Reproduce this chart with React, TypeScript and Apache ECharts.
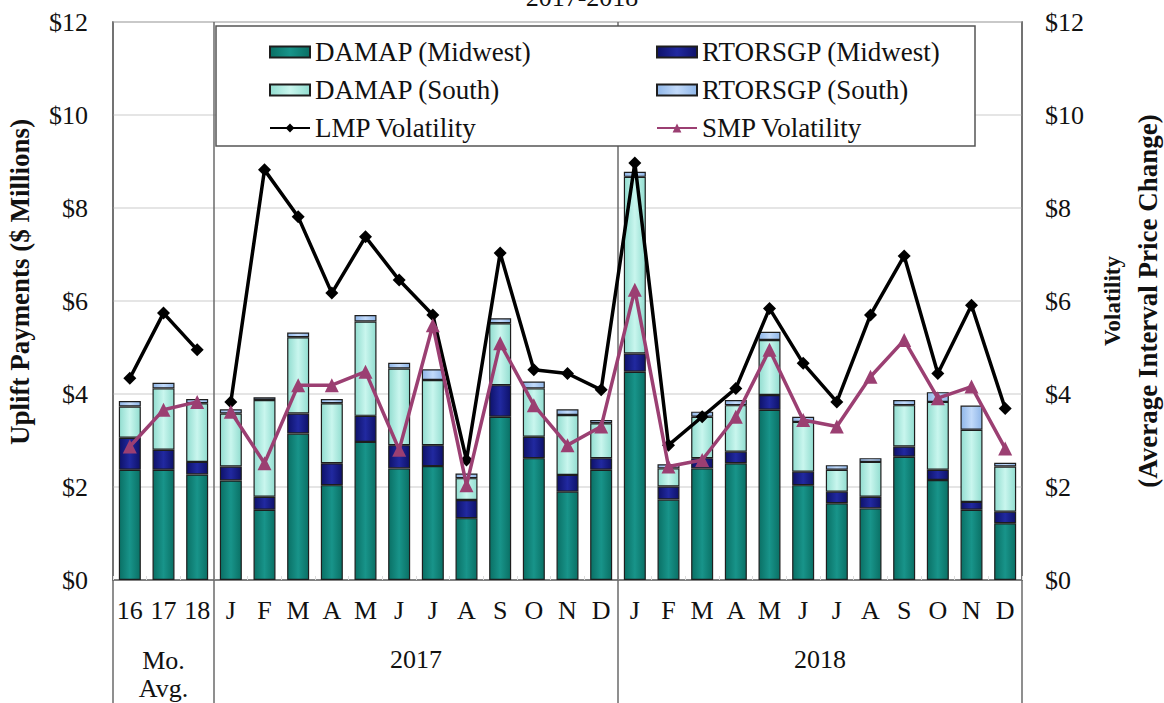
import React, { useEffect, useRef } from "react";
import * as echarts from "echarts";

const categories = ["16","17","18","J","F","M","A","M","J","J","A","S","O","N","D","J","F","M","A","M","J","J","A","S","O","N","D"];
const damapMidwest = [2.37,2.37,2.27, 2.14,1.51,3.15,2.04,2.97,2.40,2.45,1.33,3.51,2.62,1.90,2.37, 4.48,1.73,2.40,2.51,3.66,2.04,1.65,1.54,2.65,2.15,1.51,1.22];
const rtorsgpMidwest = [0.69,0.43,0.27, 0.30,0.28,0.43,0.47,0.56,0.50,0.45,0.39,0.68,0.46,0.36,0.25, 0.39,0.28,0.22,0.25,0.32,0.29,0.25,0.25,0.22,0.22,0.17,0.25];
const damapSouth = [0.67,1.32,1.26, 1.14,2.08,1.64,1.29,2.03,1.65,1.40,0.47,1.33,1.04,1.29,0.75, 3.80,0.39,0.89,1.00,1.18,1.07,0.47,0.75,0.89,1.46,1.55,0.97];
const rtorsgpSouth = [0.12,0.12,0.09, 0.09,0.06,0.10,0.09,0.14,0.12,0.23,0.10,0.11,0.15,0.12,0.07, 0.11,0.09,0.11,0.11,0.18,0.11,0.10,0.08,0.11,0.21,0.52,0.08];
const lmpVolatility = [4.34,5.74,4.95, 3.83,8.82,7.81,6.17,7.38,6.45,5.70,2.58,7.03,4.52,4.44,4.09, 8.97,2.90,3.51,4.12,5.84,4.66,3.83,5.70,6.97,4.44,5.91,3.69];
const smpVolatility = [2.87,3.66,3.83, 3.62,2.51,4.19,4.19,4.48,2.80,5.48,2.04,5.09,3.76,2.90,3.30, 6.24,2.44,2.58,3.51,4.95,3.44,3.30,4.37,5.16,3.91,4.16,2.83];
const groupLabels = ["Mo.\nAvg.", "2017", "2018"];
const avgCount = 3;

const FONT = "Liberation Serif";

function hGrad(edge: string, mid: string) {
  return new echarts.graphic.LinearGradient(0, 0, 1, 0, [
    { offset: 0, color: edge },
    { offset: 0.5, color: mid },
    { offset: 1, color: edge },
  ]);
}

export default function App() {
  const ref = useRef<HTMLDivElement>(null);
  useEffect(() => {
    if (!ref.current) return;
    const chart = echarts.init(ref.current, null, { renderer: "svg" });
    const gridLeft = 113, gridRight = 1022, gridTop = 22, gridBottom = 580;
    const cw = (gridRight - gridLeft) / categories.length;
    const sepX = (i: number) => gridLeft + cw * i;

    const splitAvg = (arr: number[]) => arr.map((v, i) => (i < avgCount ? v : null));
    const splitMonths = (arr: number[]) => arr.map((v, i) => (i >= avgCount ? v : null));

    const barCommon = {
      type: "bar",
      stack: "uplift",
      barWidth: 22,
      yAxisIndex: 0,
    };
    const lineStyleLmp = {
      type: "line",
      yAxisIndex: 1,
      symbol: "diamond",
      symbolSize: 13,
      itemStyle: { color: "#000" },
      lineStyle: { color: "#000", width: 3.5 },
      z: 5,
    };
    const lineStyleSmp = {
      type: "line",
      yAxisIndex: 1,
      symbol: "triangle",
      symbolSize: 14,
      itemStyle: { color: "#9b3f72" },
      lineStyle: { color: "#9b3f72", width: 3.5 },
      z: 6,
    };

    const lineColor = "#6a6a6a";
    const legendCommon = {
      orient: "vertical",
      top: 32,
      itemWidth: 40,
      itemHeight: 11,
      itemGap: 8,
      itemTextGap: 10,
      textStyle: { fontFamily: FONT, fontSize: 27, color: "#111", lineHeight: 30 },
    };
    chart.setOption({
      animation: false,
      textStyle: { fontFamily: FONT },
      grid: {
        left: gridLeft,
        right: 1164 - gridRight,
        top: gridTop,
        bottom: 703 - gridBottom,
        outerBoundsMode: "none",
        containLabel: false,
        show: true,
        borderColor: lineColor,
        borderWidth: 1.5,
      },
      legend: [
        {
          ...legendCommon,
          left: 264,
          data: [
            { name: "DAMAP (Midwest)", icon: "rect" },
            { name: "DAMAP (South)", icon: "rect" },
            { name: "LMP Volatility" },
          ],
        },
        {
          ...legendCommon,
          left: 651,
          data: [
            { name: "RTORSGP (Midwest)", icon: "rect" },
            { name: "RTORSGP (South)", icon: "rect" },
            { name: "SMP Volatility" },
          ],
        },
      ],
      xAxis: {
        type: "category",
        data: categories,
        axisLine: { lineStyle: { color: lineColor, width: 1.5 } },
        axisTick: { show: true, inside: true, length: 4, lineStyle: { color: "#ddd" } },
        axisLabel: { fontFamily: FONT, fontSize: 26, color: "#111", margin: 17, interval: 0 },
      },
      yAxis: [
        {
          type: "value",
          min: 0,
          max: 12,
          interval: 2,
          name: "Uplift Payments ($ Millions)",
          nameLocation: "middle",
          nameRotate: 90,
          nameGap: 80,
          nameTextStyle: { fontFamily: FONT, fontSize: 27, fontWeight: "bold", color: "#111", padding: [0, 0, 0, 38] },
          axisLine: { show: true, lineStyle: { color: lineColor, width: 1.5 } },
          axisLabel: { formatter: "${value}", fontFamily: FONT, fontSize: 26, color: "#111", margin: 25 },
          splitLine: { lineStyle: { color: "#dcdcdc", width: 1.5 } },
        },
        {
          type: "value",
          min: 0,
          max: 12,
          interval: 2,
          name: "{a|Volatility}\n{b|(Average Interval Price Change)}",
          nameLocation: "middle",
          nameRotate: 90,
          nameGap: 73,
          nameTextStyle: {
            fontFamily: FONT,
            fontWeight: "bold",
            color: "#111",
            rich: {
              a: { fontFamily: FONT, fontSize: 23, fontWeight: "bold", color: "#111", lineHeight: 34 },
              b: { fontFamily: FONT, fontSize: 27, fontWeight: "bold", color: "#111", lineHeight: 38 },
            },
          },
          axisLine: { show: true, lineStyle: { color: lineColor, width: 1.5 } },
          axisLabel: { formatter: "${value}", fontFamily: FONT, fontSize: 26, color: "#111", margin: 23 },
          splitLine: { show: false },
        },
      ],
      graphic: [
        { type: "text", left: "center", top: -16, style: { text: "2017-2018", font: `26px ${FONT}`, fill: "#111" } },
        { type: "line", z: 1, shape: { x1: sepX(avgCount), y1: gridTop, x2: sepX(avgCount), y2: 703 }, style: { stroke: lineColor, lineWidth: 1.5 } },
        { type: "line", z: 1, shape: { x1: sepX(15), y1: gridTop, x2: sepX(15), y2: 703 }, style: { stroke: lineColor, lineWidth: 1.5 } },
        { type: "line", z: 1, shape: { x1: gridLeft, y1: gridBottom, x2: gridLeft, y2: 703 }, style: { stroke: lineColor, lineWidth: 1.5 } },
        { type: "line", z: 1, shape: { x1: gridRight, y1: gridBottom, x2: gridRight, y2: 703 }, style: { stroke: lineColor, lineWidth: 1.5 } },
        { type: "rect", z: 2, shape: { x: 216, y: 26, width: 759, height: 120 }, style: { fill: "#fff", stroke: "#555", lineWidth: 1.5 } },
        { type: "text", x: (sepX(0) + sepX(3)) / 2, y: 646, style: { text: groupLabels[0], font: `26px ${FONT}`, fill: "#111", align: "center", lineHeight: 28 } },
        { type: "text", x: (sepX(3) + sepX(15)) / 2, y: 646, style: { text: groupLabels[1], font: `26px ${FONT}`, fill: "#111", align: "center" } },
        { type: "text", x: (sepX(15) + sepX(27)) / 2, y: 646, style: { text: groupLabels[2], font: `26px ${FONT}`, fill: "#111", align: "center" } },
      ],
      series: [
        { ...barCommon, name: "DAMAP (Midwest)", data: damapMidwest, itemStyle: { color: hGrad("#0a7065", "#18948a"), borderColor: "#1e1e1e", borderWidth: 1.2 } },
        { ...barCommon, name: "RTORSGP (Midwest)", data: rtorsgpMidwest, itemStyle: { color: hGrad("#0e126a", "#2129a0"), borderColor: "#1e1e1e", borderWidth: 1.2 } },
        { ...barCommon, name: "DAMAP (South)", data: damapSouth, itemStyle: { color: hGrad("#92ddd0", "#c9f6ee"), borderColor: "#1e1e1e", borderWidth: 1.2 } },
        { ...barCommon, name: "RTORSGP (South)", data: rtorsgpSouth, itemStyle: { color: hGrad("#8fb6e8", "#c2dafa"), borderColor: "#1e1e1e", borderWidth: 1.2 } },
        { ...lineStyleLmp, name: "LMP Volatility", data: splitAvg(lmpVolatility) },
        { ...lineStyleLmp, name: "LMP Volatility", data: splitMonths(lmpVolatility) },
        { ...lineStyleSmp, name: "SMP Volatility", data: splitAvg(smpVolatility) },
        { ...lineStyleSmp, name: "SMP Volatility", data: splitMonths(smpVolatility) },
      ],
    });
    return () => chart.dispose();
  }, []);
  return <div ref={ref} style={{ position: "absolute", left: 0, top: 0, width: 1164, height: 703, background: "#fff" }} />;
}
